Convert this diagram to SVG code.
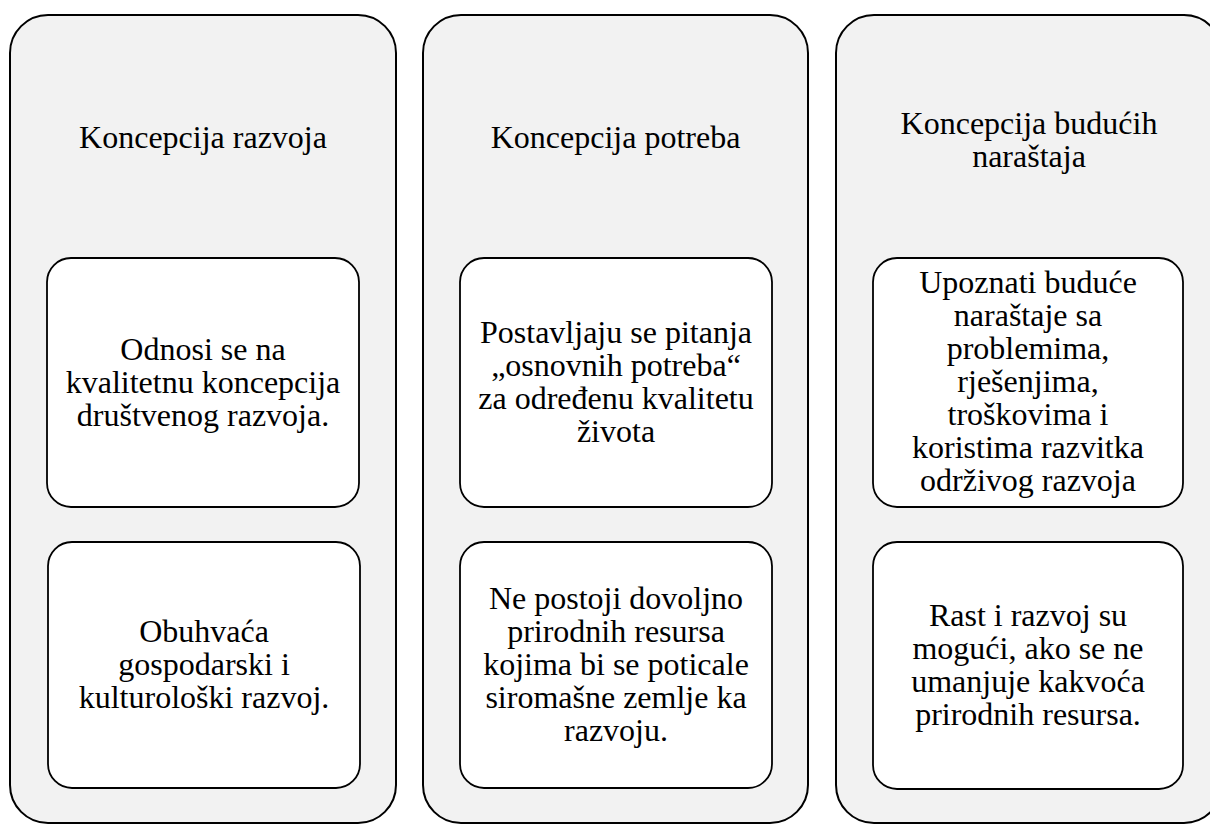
<svg xmlns="http://www.w3.org/2000/svg" width="1210" height="825" viewBox="0 0 1210 825">
<style>
.col{fill:#f2f2f2;stroke:#000;stroke-width:2}
.box{fill:#fff;stroke:#000;stroke-width:1.8}
.t{font-family:"Liberation Serif", Tinos, "Times New Roman", Times, "Noto Serif", "DejaVu Serif", FreeSerif, serif;font-size:32px;fill:#000;text-anchor:middle}
</style>
<rect width="1210" height="825" fill="#fff"/>
<g id="col1">
<rect class="col" x="10" y="15" width="386" height="808" rx="38"/>
<text class="t" x="203" y="148">Koncepcija razvoja</text>
</g>
<g id="col1-box1">
<rect class="box" x="47" y="258" width="312" height="249" rx="24"/>
<text class="t" x="203"><tspan x="203" y="359.5">Odnosi se na</tspan><tspan x="203" y="392.5">kvalitetnu koncepcija</tspan><tspan x="203" y="425.5">društvenog razvoja.</tspan></text>
</g>
<g id="col1-box2">
<rect class="box" x="48" y="542" width="312" height="246" rx="24"/>
<text class="t" x="204"><tspan x="204" y="642">Obuhvaća</tspan><tspan x="204" y="675">gospodarski i</tspan><tspan x="204" y="708">kulturološki razvoj.</tspan></text>
</g>
<g id="col2">
<rect class="col" x="423" y="15" width="385" height="808" rx="38"/>
<text class="t" x="615.5" y="148">Koncepcija potreba</text>
</g>
<g id="col2-box1">
<rect class="box" x="460" y="258" width="312" height="249" rx="24"/>
<text class="t" x="616"><tspan x="616" y="343">Postavljaju se pitanja</tspan><tspan x="616" y="376">„osnovnih potreba“</tspan><tspan x="616" y="409">za određenu kvalitetu</tspan><tspan x="616" y="442">života</tspan></text>
</g>
<g id="col2-box2">
<rect class="box" x="460" y="542" width="312" height="246" rx="24"/>
<text class="t" x="616"><tspan x="616" y="609">Ne postoji dovoljno</tspan><tspan x="616" y="642">prirodnih resursa</tspan><tspan x="616" y="675">kojima bi se poticale</tspan><tspan x="616" y="708">siromašne zemlje ka</tspan><tspan x="616" y="741">razvoju.</tspan></text>
</g>
<g id="col3">
<rect class="col" x="836" y="15" width="386" height="808" rx="38"/>
<text class="t" x="1029"><tspan x="1029" y="134">Koncepcija budućih</tspan><tspan x="1029" y="167">naraštaja</tspan></text>
</g>
<g id="col3-box1">
<rect class="box" x="873" y="258" width="310" height="249" rx="24"/>
<text class="t" x="1028"><tspan x="1028" y="293">Upoznati buduće</tspan><tspan x="1028" y="326">naraštaje sa</tspan><tspan x="1028" y="359">problemima,</tspan><tspan x="1028" y="392">rješenjima,</tspan><tspan x="1028" y="425">troškovima i</tspan><tspan x="1028" y="458">koristima razvitka</tspan><tspan x="1028" y="491">održivog razvoja</tspan></text>
</g>
<g id="col3-box2">
<rect class="box" x="873" y="542" width="310" height="247" rx="24"/>
<text class="t" x="1028"><tspan x="1028" y="625.5">Rast i razvoj su</tspan><tspan x="1028" y="658.5">mogući, ako se ne</tspan><tspan x="1028" y="691.5">umanjuje kakvoća</tspan><tspan x="1028" y="724.5">prirodnih resursa.</tspan></text>
</g>
<g id="connectors"></g>
</svg>
